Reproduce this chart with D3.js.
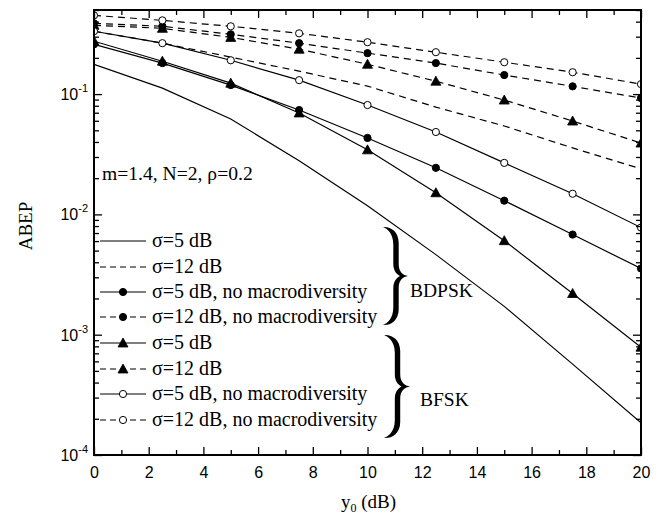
<!DOCTYPE html>
<html><head><meta charset="utf-8">
<script src="https://cdn.jsdelivr.net/npm/d3@7"></script>
<style>
html,body{margin:0;padding:0;background:#fff;}
svg{display:block;}
.serif{font-family:"Liberation Serif","Times New Roman",serif;}
.sans{font-family:"Liberation Sans",Arial,sans-serif;}
</style></head>
<body>
<script>
// ---- data ----
const yoDB = [0, 2.5, 5, 7.5, 10, 12.5, 15, 17.5, 20];
const bdpskS5 = [0.177, 0.112, 0.0621, 0.0279, 0.0118, 0.00463, 0.00172, 0.000569, 0.000185];
const bdpskS12 = [0.333, 0.265, 0.203, 0.155, 0.1165, 0.078, 0.0543, 0.0357, 0.0239];
const bdpskS5NoMacro = [0.259, 0.181, 0.1188, 0.0737, 0.0432, 0.0244, 0.0130, 0.0068, 0.00355];
const bdpskS12NoMacro = [0.387, 0.366, 0.314, 0.265, 0.219, 0.181, 0.144, 0.116, 0.0927];
const bfskS5 = [0.275, 0.1876, 0.1233, 0.0697, 0.0344, 0.01513, 0.00605, 0.0022, 0.000787];
const bfskS12 = [0.373, 0.352, 0.296, 0.236, 0.177, 0.128, 0.0892, 0.0597, 0.0392];
const bfskS5NoMacro = [0.333, 0.265, 0.191, 0.1306, 0.0811, 0.0484, 0.0268, 0.01485, 0.00777];
const bfskS12NoMacro = [0.451, 0.410, 0.366, 0.320, 0.270, 0.223, 0.184, 0.152, 0.121];

const xMajorTicks = [0, 2, 4, 6, 8, 10, 12, 14, 16, 18, 20];
const xMinorTicks = [1, 3, 5, 7, 9, 11, 13, 15, 17, 19];
const yDecades = [1e-4, 1e-3, 1e-2, 1e-1];
const yDecadeExps = ["-4", "-3", "-2", "-1"];
const legendLabels = ["σ=5 dB", "σ=12 dB", "σ=5 dB, no macrodiversity", "σ=12 dB, no macrodiversity",
                      "σ=5 dB", "σ=12 dB", "σ=5 dB, no macrodiversity", "σ=12 dB, no macrodiversity"];
const groupLabels = ["BDPSK", "BFSK"];
const annotation = "m=1.4, N=2, ρ=0.2";

// series table: values, dashed?, marker
const series = [
  {v: bdpskS5, dash: false, m: "none"},
  {v: bdpskS12, dash: true, m: "none"},
  {v: bdpskS5NoMacro, dash: false, m: "fcircle"},
  {v: bdpskS12NoMacro, dash: true, m: "fcircle"},
  {v: bfskS5, dash: false, m: "ftri"},
  {v: bfskS12, dash: true, m: "ftri"},
  {v: bfskS5NoMacro, dash: false, m: "ocircle"},
  {v: bfskS12NoMacro, dash: true, m: "ocircle"}
];

const W = 664, H = 517;
const L = 94, R = 641, T = 10, B = 455;
const svg = d3.select("body").append("svg").attr("width", W).attr("height", H);

const x = d3.scaleLinear().domain([0, 20]).range([L, R]);
const y = d3.scaleLog().domain([1e-4, 0.5]).range([B, T]);

svg.append("defs").append("clipPath").attr("id", "clip")
  .append("rect").attr("x", L).attr("y", T).attr("width", R - L).attr("height", B - T);

const DASH = "7,5";

function drawMarker(g, type, cx, cy) {
  if (type === "fcircle" || type === "ocircle") {
    g.append("circle").attr("cx", cx).attr("cy", cy).attr("r", 3.6)
      .attr("fill", type === "fcircle" ? "#000" : "#fff")
      .attr("stroke", "#000").attr("stroke-width", 1);
  } else if (type === "ftri") {
    const s = 5;
    g.append("path").attr("d", `M${cx},${cy - s}L${cx + s},${cy + s * 0.8}L${cx - s},${cy + s * 0.8}Z`)
      .attr("fill", "#000").attr("stroke", "#000").attr("stroke-width", 0.8);
  }
}

// curves
const plot = svg.append("g").attr("clip-path", "url(#clip)");
const line = d3.line().x(d => x(d[0])).y(d => y(d[1]));
series.forEach(s => {
  const pts = yoDB.map((xv, i) => [xv, s.v[i]]);
  plot.append("path").attr("d", line(pts)).attr("fill", "none")
    .attr("stroke", "#000").attr("stroke-width", 1.2)
    .attr("stroke-dasharray", s.dash ? DASH : null);
});
series.forEach(s => {
  if (s.m === "none") return;
  yoDB.forEach((xv, i) => drawMarker(plot, s.m, x(xv), y(s.v[i])));
});

// axes
function styleAxis(g) {
  g.select(".domain").remove();
  g.selectAll("line").attr("stroke", "#000").attr("stroke-width", 1.3);
}
const xAxisB = svg.append("g").attr("transform", `translate(0,${B})`)
  .call(d3.axisBottom(x).tickValues(xMajorTicks).tickSizeInner(-8).tickSizeOuter(0).tickPadding(11.5).tickFormat(d3.format("d")));
styleAxis(xAxisB);
xAxisB.selectAll("text").attr("class", "sans").attr("font-size", 16).attr("fill", "#000");
const xAxisBm = svg.append("g").attr("transform", `translate(0,${B})`)
  .call(d3.axisBottom(x).tickValues(xMinorTicks).tickSizeInner(-5).tickSizeOuter(0).tickFormat(""));
styleAxis(xAxisBm);
const xAxisT = svg.append("g").attr("transform", `translate(0,${T})`)
  .call(d3.axisTop(x).tickValues(xMajorTicks).tickSizeInner(-8).tickSizeOuter(0).tickFormat(""));
styleAxis(xAxisT);
const xAxisTm = svg.append("g").attr("transform", `translate(0,${T})`)
  .call(d3.axisTop(x).tickValues(xMinorTicks).tickSizeInner(-5).tickSizeOuter(0).tickFormat(""));
styleAxis(xAxisTm);

const yMinor = [];
[1e-4, 1e-3, 1e-2, 1e-1].forEach(d => { for (let k = 2; k <= 9; k++) { const v = d * k; if (v <= 0.5 + 1e-9) yMinor.push(v); } });
const yAxisL = svg.append("g").attr("transform", `translate(${L},0)`)
  .call(d3.axisLeft(y).tickValues(yDecades).tickSizeInner(-8).tickSizeOuter(0).tickFormat(""));
styleAxis(yAxisL);
const yAxisLm = svg.append("g").attr("transform", `translate(${L},0)`)
  .call(d3.axisLeft(y).tickValues(yMinor).tickSizeInner(-5).tickSizeOuter(0).tickFormat(""));
styleAxis(yAxisLm);
const yAxisR = svg.append("g").attr("transform", `translate(${R},0)`)
  .call(d3.axisRight(y).tickValues(yDecades).tickSizeInner(-8).tickSizeOuter(0).tickFormat(""));
styleAxis(yAxisR);
const yAxisRm = svg.append("g").attr("transform", `translate(${R},0)`)
  .call(d3.axisRight(y).tickValues(yMinor).tickSizeInner(-5).tickSizeOuter(0).tickFormat(""));
styleAxis(yAxisRm);

// y tick labels with superscripts
yDecades.forEach((d, i) => {
  const t = svg.append("text").attr("class", "sans").attr("x", 88).attr("y", y(d) + 6)
    .attr("text-anchor", "end").attr("font-size", 16).attr("fill", "#000");
  t.append("tspan").text("10");
  t.append("tspan").attr("font-size", 11).attr("dy", -8).text(yDecadeExps[i]);
});

// frame
svg.append("rect").attr("x", L).attr("y", T).attr("width", R - L).attr("height", B - T)
  .attr("fill", "none").attr("stroke", "#000").attr("stroke-width", 2);

// axis titles
const xt = svg.append("text").attr("class", "serif").attr("x", (L + R) / 2 + 1).attr("y", 508)
  .attr("text-anchor", "middle").attr("font-size", 19).attr("fill", "#000");
xt.append("tspan").text("y");
xt.append("tspan").attr("font-size", 12).attr("dy", 4).text("0");
xt.append("tspan").attr("dy", -4).text(" (dB)");
svg.append("text").attr("class", "serif").attr("transform", "translate(32,226) rotate(-90)")
  .attr("text-anchor", "middle").attr("font-size", 19).attr("fill", "#000").text("ABEP");

// annotation
svg.append("text").attr("class", "serif").attr("x", 102).attr("y", 180)
  .attr("font-size", 19.6).attr("fill", "#000").text(annotation);

// legend
const rowY = [241, 267, 292, 317, 343, 369, 394, 420];
series.forEach((s, i) => {
  const g = svg.append("g");
  g.append("line").attr("x1", 100).attr("x2", 146).attr("y1", rowY[i]).attr("y2", rowY[i])
    .attr("stroke", "#000").attr("stroke-width", 1.2).attr("stroke-dasharray", s.dash ? "6,4" : null);
  if (s.m !== "none") drawMarker(g, s.m, 123, rowY[i]);
  g.append("text").attr("class", "serif").attr("x", 152).attr("y", rowY[i] + 6)
    .attr("font-size", 20).attr("fill", "#000").text(legendLabels[i]);
});

// braces
function brace(Lx, Ty, Wd, Ht) {
  const ax = Lx + Wd * 0.52, th = 2.7, m = Ty + Ht / 2, tip = Lx + Wd;
  const d = `M${Lx},${Ty}
    C${Lx + 7},${Ty - 0.8} ${ax + th},${Ty + 4} ${ax + th},${Ty + 16}
    L${ax + th},${m - 12}
    C${ax + th},${m - 4} ${tip - 5},${m - 0.8} ${tip},${m}
    C${tip - 5},${m + 0.8} ${ax + th},${m + 4} ${ax + th},${m + 12}
    L${ax + th},${Ty + Ht - 16}
    C${ax + th},${Ty + Ht - 4} ${Lx + 7},${Ty + Ht + 0.8} ${Lx},${Ty + Ht}
    C${Lx + 4},${Ty + Ht - 1.5} ${ax - th},${Ty + Ht - 6} ${ax - th},${Ty + Ht - 18}
    L${ax - th},${m + 12}
    C${ax - th},${m + 4} ${ax + 2},${m + 1} ${ax + 4},${m}
    C${ax + 2},${m - 1} ${ax - th},${m - 4} ${ax - th},${m - 12}
    L${ax - th},${Ty + 18}
    C${ax - th},${Ty + 6} ${Lx + 4},${Ty + 1.5} ${Lx},${Ty} Z`;
  svg.append("path").attr("d", d).attr("fill", "#000");
}
brace(383, 227, 25, 98);
brace(384, 335, 26, 103);
svg.append("text").attr("class", "serif").attr("x", 410).attr("y", 297)
  .attr("font-size", 19.5).attr("fill", "#000").text(groupLabels[0]);
svg.append("text").attr("class", "serif").attr("x", 420).attr("y", 406)
  .attr("font-size", 19.5).attr("fill", "#000").text(groupLabels[1]);
</script>
</body></html>
